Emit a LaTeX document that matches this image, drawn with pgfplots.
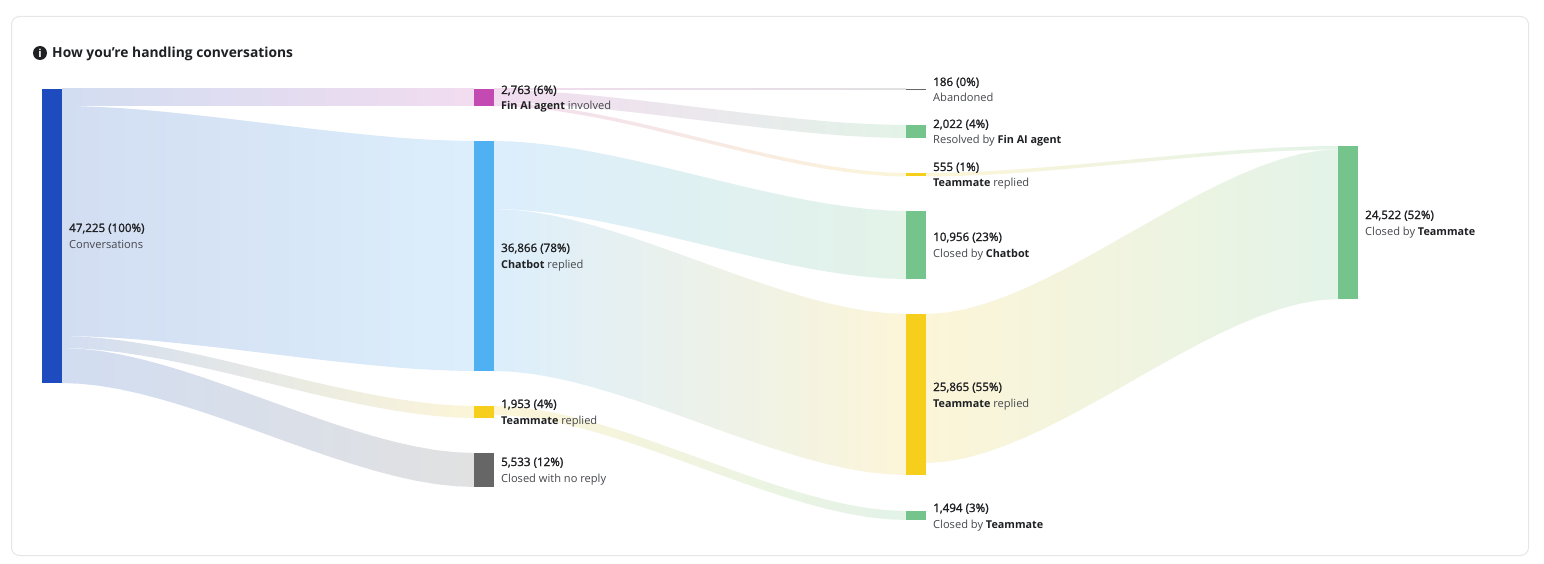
\documentclass[border=0pt]{standalone}
\usepackage{fontspec}
\usepackage{pgfplots}
\pgfplotsset{compat=1.18}
\setmainfont{Open Sans}
\newfontfamily\medf[FakeBold=1.5]{Open Sans}

% nodes
\definecolor{Navy}{HTML}{1E4CBF}
\definecolor{Magenta}{HTML}{C24AB2}
\definecolor{Sky}{HTML}{4FB0F2}
\definecolor{Yellow}{HTML}{F5CF1B}
\definecolor{Slate}{HTML}{666666}
\definecolor{Green}{HTML}{74C48C}
% flow ends
\definecolor{fNavy}{HTML}{D2DDF1}
\definecolor{fMagenta}{HTML}{F2DCF0}
\definecolor{fSky}{HTML}{DCEEFC}
\definecolor{fYellow}{HTML}{FCF5D8}
\definecolor{fSlate}{HTML}{E1E1E1}
\definecolor{fGreen}{HTML}{E3F3E8}
\definecolor{Ink}{HTML}{1F2023}
\definecolor{Muted}{HTML}{45474C}
\definecolor{Card}{HTML}{E6E6E6}

\newcommand{\bb}[1]{{\bfseries\fontsize{10.8}{13}\selectfont\color{Ink}#1}}
\newcommand{\lab}[4]{%
  \node[anchor=base west,inner sep=0pt,font=\fontsize{11.6}{13}\selectfont] at (axis cs:#1,#2+4) {\medf\color{Ink}#3};
  \node[anchor=base west,inner sep=0pt,font=\fontsize{11.1}{13}\selectfont,text=Muted] at (axis cs:#1,#2+20) {#4};
}

\begin{document}
\begin{tikzpicture}
\begin{axis}[
    scale only axis,
    width=1544pt, height=564pt,
    xmin=0, xmax=1544, ymin=0, ymax=564,
    y dir=reverse,
    hide axis,
    clip=false,
]
% page and card
\path (axis cs:0,0) rectangle (axis cs:1544,564);
\draw[Card, line width=1pt, rounded corners=8pt, fill=white]
    (axis cs:11.5,16.5) rectangle (axis cs:1528.5,555.5);

% flows, first column
\addplot[draw=none, left color=fNavy, right color=fMagenta] coordinates {
    (62,89) (474,89) (474,106) (62,106)} -- cycle;
\addplot[draw=none, left color=fNavy, right color=fSky] coordinates {
    (62,106) (80.8,106.25) (100.2,107) (120.1,108.1) (140.4,109.6) (161.1,111.5) (182.1,113.6) (203.4,115.9) (224.8,118.3) (246.4,120.9) (268,123.5)
    (289.6,126.1) (311.2,128.7) (332.6,131.1) (353.9,133.4) (374.9,135.5) (395.6,137.4) (415.9,138.9) (435.8,140) (455.2,140.7) (474,141)
    (474,371) (455.2,370.7) (435.8,370) (415.9,368.9) (395.6,367.4) (374.9,365.5) (353.9,363.4) (332.6,361.1) (311.2,358.7) (289.6,356.1)
    (268,353.5) (246.4,350.9) (224.8,348.3) (203.4,345.9) (182.1,343.6) (161.1,341.5) (140.4,339.6) (120.1,338.1) (100.2,337) (80.8,336.25) (62,336)} -- cycle;
\addplot[draw=none, left color=fNavy, right color=fYellow] coordinates {
    (62,336) (80.8,336.5) (100.2,338) (120.1,340.3) (140.4,343.3) (161.1,346.9) (182.1,351.1) (203.4,355.7) (224.8,360.6) (246.4,365.8) (268,371)
    (289.6,376.2) (311.2,381.4) (332.6,386.3) (353.9,390.9) (374.9,395.1) (395.6,398.7) (415.9,401.7) (435.8,404) (455.2,405.5) (474,406)
    (474,418) (455.2,417.5) (435.8,416) (415.9,413.7) (395.6,410.7) (374.9,407.1) (353.9,402.9) (332.6,398.3) (311.2,393.4) (289.6,388.2)
    (268,383) (246.4,377.8) (224.8,372.6) (203.4,367.7) (182.1,363.1) (161.1,358.9) (140.4,355.3) (120.1,352.3) (100.2,350) (80.8,348.5) (62,348)} -- cycle;
\addplot[draw=none, left color=fNavy, right color=fSlate] coordinates {
    (62,348) (80.8,348.8) (100.2,350.9) (120.1,354.4) (140.4,358.9) (161.1,364.4) (182.1,370.7) (203.4,377.6) (224.8,385) (246.4,392.7) (268,400.5)
    (289.6,408.3) (311.2,416) (332.6,423.4) (353.9,430.3) (374.9,436.6) (395.6,442.1) (415.9,446.6) (435.8,450.1) (455.2,452.2) (474,453)
    (474,487) (455.2,486.2) (435.8,484.1) (415.9,480.7) (395.6,476.2) (374.9,470.8) (353.9,464.5) (332.6,457.7) (311.2,450.4) (289.6,442.8)
    (268,435) (246.4,427.2) (224.8,419.6) (203.4,412.3) (182.1,405.5) (161.1,399.3) (140.4,393.8) (120.1,389.3) (100.2,385.9) (80.8,383.8) (62,383)} -- cycle;

% flows, second column
\addplot[draw=none, left color=fMagenta, right color=fSlate] coordinates {
    (494,89) (906,89) (906,90) (494,90)} -- cycle;
\addplot[draw=none, left color=fMagenta, right color=fGreen] coordinates {
    (494,90) (512.8,90.25) (532.2,91) (552.1,92.1) (572.4,93.6) (593.1,95.5) (614.1,97.6) (635.4,99.9) (656.8,102.3) (678.4,104.9) (700,107.5)
    (721.6,110.1) (743.2,112.7) (764.6,115.1) (785.9,117.4) (806.9,119.5) (827.6,121.4) (847.9,122.9) (867.8,124) (887.2,124.7) (906,125)
    (906,138) (887.2,137.7) (867.8,137) (847.9,135.9) (827.6,134.3) (806.9,132.5) (785.9,130.3) (764.6,128) (743.2,125.5) (721.6,122.9)
    (700,120.25) (678.4,117.6) (656.8,115) (635.4,112.5) (614.1,110.2) (593.1,108.1) (572.4,106.2) (552.1,104.6) (532.2,103.5) (512.8,102.8) (494,102.5)} -- cycle;
\addplot[draw=none, left color=fMagenta, right color=fYellow] coordinates {
    (494,102.5) (512.8,103) (532.2,104.5) (552.1,106.8) (572.4,109.9) (593.1,113.5) (614.1,117.7) (635.4,122.3) (656.8,127.3) (678.4,132.5) (700,137.75)
    (721.6,143) (743.2,148.2) (764.6,153.2) (785.9,157.8) (806.9,162) (827.6,165.7) (847.9,168.7) (867.8,171) (887.2,172.5) (906,173)
    (906,176.5) (887.2,176) (867.8,174.5) (847.9,172.2) (827.6,169.2) (806.9,165.5) (785.9,161.3) (764.6,156.7) (743.2,151.7) (721.6,146.5)
    (700,141.25) (678.4,136) (656.8,130.8) (635.4,125.8) (614.1,121.2) (593.1,117) (572.4,113.4) (552.1,110.3) (532.2,108) (512.8,106.5) (494,106)} -- cycle;
\addplot[draw=none, left color=fSky, right color=fGreen] coordinates {
    (494,141) (512.8,141.5) (532.2,143) (552.1,145.3) (572.4,148.3) (593.1,151.9) (614.1,156.1) (635.4,160.7) (656.8,165.6) (678.4,170.8) (700,176)
    (721.6,181.2) (743.2,186.4) (764.6,191.3) (785.9,195.9) (806.9,200.1) (827.6,203.7) (847.9,206.7) (867.8,209) (887.2,210.5) (906,211)
    (906,279) (887.2,278.5) (867.8,277) (847.9,274.7) (827.6,271.7) (806.9,268.1) (785.9,263.9) (764.6,259.3) (743.2,254.4) (721.6,249.2)
    (700,244) (678.4,238.8) (656.8,233.6) (635.4,228.7) (614.1,224.1) (593.1,219.9) (572.4,216.3) (552.1,213.3) (532.2,211) (512.8,209.5) (494,209)} -- cycle;
\addplot[draw=none, left color=fSky, right color=fYellow] coordinates {
    (494,209) (512.8,209.8) (532.2,211.9) (552.1,215.4) (572.4,219.9) (593.1,225.4) (614.1,231.7) (635.4,238.6) (656.8,246) (678.4,253.7) (700,261.5)
    (721.6,269.3) (743.2,277) (764.6,284.4) (785.9,291.3) (806.9,297.6) (827.6,303.1) (847.9,307.6) (867.8,311.1) (887.2,313.2) (906,314)
    (906,475) (887.2,474.2) (867.8,472.1) (847.9,468.7) (827.6,464.2) (806.9,458.8) (785.9,452.5) (764.6,445.7) (743.2,438.4) (721.6,430.8)
    (700,423) (678.4,415.2) (656.8,407.6) (635.4,400.3) (614.1,393.5) (593.1,387.3) (572.4,381.8) (552.1,377.3) (532.2,373.9) (512.8,371.8) (494,371)} -- cycle;
\addplot[draw=none, left color=fYellow, right color=fGreen] coordinates {
    (494,406) (512.8,406.8) (532.2,408.9) (552.1,412.4) (572.4,416.9) (593.1,422.4) (614.1,428.7) (635.4,435.6) (656.8,443) (678.4,450.7) (700,458.5)
    (721.6,466.3) (743.2,474) (764.6,481.4) (785.9,488.3) (806.9,494.6) (827.6,500.1) (847.9,504.6) (867.8,508.1) (887.2,510.2) (906,511)
    (906,520) (887.2,519.2) (867.8,517.1) (847.9,513.6) (827.6,509.1) (806.9,503.6) (785.9,497.3) (764.6,490.4) (743.2,483) (721.6,475.3)
    (700,467.5) (678.4,459.7) (656.8,452) (635.4,444.6) (614.1,437.7) (593.1,431.4) (572.4,425.9) (552.1,421.4) (532.2,417.9) (512.8,415.8) (494,415)} -- cycle;

% flows, third column
\addplot[draw=none, left color=fYellow, right color=fGreen] coordinates {
    (926,173) (944.8,172.8) (964.2,172.2) (984.1,171.4) (1004.4,170.2) (1025.1,168.8) (1046.1,167.2) (1067.4,165.4) (1088.8,163.5) (1110.4,161.5) (1132,159.5)
    (1153.6,157.5) (1175.2,155.5) (1196.6,153.6) (1217.9,151.8) (1238.9,150.2) (1259.6,148.8) (1279.9,147.6) (1299.8,146.8) (1319.2,146.2) (1338,146)
    (1338,149.5) (1319.2,149.7) (1299.8,150.3) (1279.9,151.1) (1259.6,152.3) (1238.9,153.7) (1217.9,155.3) (1196.6,157.1) (1175.2,159) (1153.6,161)
    (1132,163) (1110.4,165) (1088.8,167) (1067.4,168.9) (1046.1,170.7) (1025.1,172.3) (1004.4,173.7) (984.1,174.9) (964.2,175.7) (944.8,176.3) (926,176.5)} -- cycle;
\addplot[draw=none, left color=fYellow, right color=fGreen] coordinates {
    (926,314) (944.8,312.8) (964.2,309.4) (984.1,304) (1004.4,296.9) (1025.1,288.3) (1046.1,278.5) (1067.4,267.7) (1088.8,256.1) (1110.4,244) (1132,231.75)
    (1153.6,219.5) (1175.2,207.4) (1196.6,195.8) (1217.9,185) (1238.9,175.2) (1259.6,166.6) (1279.9,159.5) (1299.8,154.1) (1319.2,150.7) (1338,149.5)
    (1338,299) (1319.2,300.2) (1299.8,303.6) (1279.9,309) (1259.6,316.1) (1238.9,324.6) (1217.9,334.4) (1196.6,345.2) (1175.2,356.7) (1153.6,368.7)
    (1132,381) (1110.4,393.3) (1088.8,405.3) (1067.4,416.8) (1046.1,427.6) (1025.1,437.4) (1004.4,445.9) (984.1,453) (964.2,458.4) (944.8,461.8) (926,463)} -- cycle;

% nodes
\addplot[draw=none, fill=Navy] coordinates {(42,89) (62,89) (62,383) (42,383)} -- cycle;
\addplot[draw=none, fill=Magenta] coordinates {(474,89) (494,89) (494,106) (474,106)} -- cycle;
\addplot[draw=none, fill=Sky] coordinates {(474,141) (494,141) (494,371) (474,371)} -- cycle;
\addplot[draw=none, fill=Yellow] coordinates {(474,406) (494,406) (494,418) (474,418)} -- cycle;
\addplot[draw=none, fill=Slate] coordinates {(474,453) (494,453) (494,487) (474,487)} -- cycle;
\addplot[draw=none, fill=Slate] coordinates {(906,89) (926,89) (926,90) (906,90)} -- cycle;
\addplot[draw=none, fill=Green] coordinates {(906,125) (926,125) (926,138) (906,138)} -- cycle;
\addplot[draw=none, fill=Yellow] coordinates {(906,173) (926,173) (926,176.5) (906,176.5)} -- cycle;
\addplot[draw=none, fill=Green] coordinates {(906,211) (926,211) (926,279) (906,279)} -- cycle;
\addplot[draw=none, fill=Yellow] coordinates {(906,314) (926,314) (926,475) (906,475)} -- cycle;
\addplot[draw=none, fill=Green] coordinates {(906,511) (926,511) (926,520) (906,520)} -- cycle;
\addplot[draw=none, fill=Green] coordinates {(1338,146) (1358,146) (1358,299) (1338,299)} -- cycle;

% title
\node[circle, fill=Ink, text=white, inner sep=0pt, minimum size=14pt,
      font=\fontsize{11}{11}\bfseries\selectfont] at (axis cs:40,53) {i};
\node[anchor=base west, inner sep=0pt, text=Ink, font=\fontsize{13.8}{16}\bfseries\selectfont]
    at (axis cs:52,58) {How you’re handling conversations};

% labels
\lab{69}{228}{47,225 (100\%)}{Conversations}
\lab{501}{90}{2,763 (6\%)}{\bb{Fin AI agent} involved}
\lab{501}{248}{36,866 (78\%)}{\bb{Chatbot} replied}
\lab{501}{404}{1,953 (4\%)}{\bb{Teammate} replied}
\lab{501}{462}{5,533 (12\%)}{Closed with no reply}
\lab{933}{82}{186 (0\%)}{Abandoned}
\lab{933}{124}{2,022 (4\%)}{Resolved by \bb{Fin AI agent}}
\lab{933}{167}{555 (1\%)}{\bb{Teammate} replied}
\lab{933}{237}{10,956 (23\%)}{Closed by \bb{Chatbot}}
\lab{933}{387}{25,865 (55\%)}{\bb{Teammate} replied}
\lab{933}{508}{1,494 (3\%)}{Closed by \bb{Teammate}}
\lab{1365}{215}{24,522 (52\%)}{Closed by \bb{Teammate}}
\end{axis}
\end{tikzpicture}
\end{document}
